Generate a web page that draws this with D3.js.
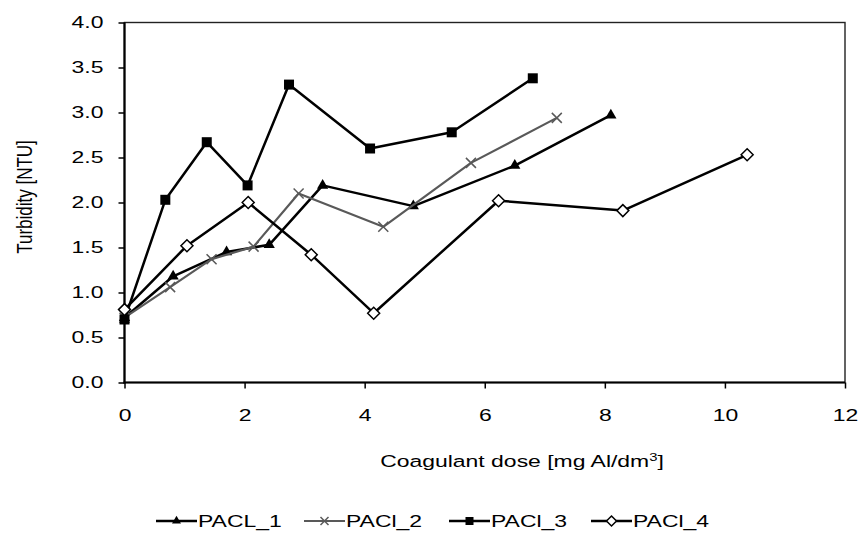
<!DOCTYPE html>
<html>
  <head>
    <title>Turbidity vs coagulant dose</title>
    <script src="https://d3js.org/d3.v7.min.js"></script>
    <style>
      body { background-color: white; margin: 0; }
      text { font-family: 'Liberation Sans', Arial, sans-serif; fill: black; }
    </style>
  </head>
  <body>
    <svg id="canvas" width="860" height="534"></svg>

    <script>
      // series values
      const pacl1X = [0, 0.81, 1.70, 2.41, 3.30, 4.81, 6.50, 8.10]
      const pacl1Y = [0.72, 1.18, 1.45, 1.53, 2.19, 1.96, 2.41, 2.97]

      const pacl2X = [0, 0.76, 1.45, 2.15, 2.90, 4.31, 5.77, 7.20]
      const pacl2Y = [0.72, 1.06, 1.37, 1.51, 2.10, 1.73, 2.44, 2.94]

      const pacl3X = [0, 0.68, 1.37, 2.05, 2.74, 4.09, 5.45, 6.80]
      const pacl3Y = [0.70, 2.03, 2.67, 2.19, 3.31, 2.60, 2.78, 3.38]

      const pacl4X = [0, 1.04, 2.06, 3.11, 4.15, 6.23, 8.30, 10.37]
      const pacl4Y = [0.81, 1.52, 2.00, 1.42, 0.77, 2.02, 1.91, 2.53]

      const xTicks = [0, 2, 4, 6, 8, 10, 12]
      const yTicks = [0, 0.5, 1, 1.5, 2, 2.5, 3, 3.5, 4]
      const seriesNames = ['PACL_1', 'PACl_2', 'PACl_3', 'PACl_4']

      const series = [
        { name: seriesNames[0], xs: pacl1X, ys: pacl1Y, color: 'black', width: 2.5, marker: 'triangle' },
        { name: seriesNames[1], xs: pacl2X, ys: pacl2Y, color: '#595959', width: 2.2, marker: 'cross' },
        { name: seriesNames[2], xs: pacl3X, ys: pacl3Y, color: 'black', width: 2.5, marker: 'square' },
        { name: seriesNames[3], xs: pacl4X, ys: pacl4Y, color: 'black', width: 2.5, marker: 'diamond' }
      ]

      // the original chart is stretched sideways, so its text is too
      const stretch = 1.35
      const fontSize = 17

      let margin = { top: 22.5, right: 15, bottom: 151.5, left: 124.5 }
      let svg = d3.select('#canvas')
      let width = +svg.attr('width') - margin.left - margin.right
      let height = +svg.attr('height') - margin.top - margin.bottom
      let g = svg.append('g').attr('transform', `translate(${margin.left}, ${margin.top})`)

      let x = d3.scaleLinear().domain([0, 12]).range([0, width])
      let y = d3.scaleLinear().domain([0, 4]).range([height, 0])

      // plot area border (top and right)
      g.append('rect')
        .attr('x', 0)
        .attr('y', 0)
        .attr('width', width)
        .attr('height', height)
        .attr('fill', 'none')
        .attr('stroke', '#222')
        .attr('stroke-width', 1.4)

      // axes
      let xAxis = g.append('g')
        .attr('transform', `translate(0, ${height})`)
        .call(d3.axisBottom(x).tickValues(xTicks).tickSize(6).tickPadding(20).tickFormat(d3.format('d')))
      let yAxis = g.append('g')
        .call(d3.axisLeft(y).tickValues(yTicks).tickSize(6).tickPadding(15).tickFormat(d3.format('.1f')))

      for (let ax of [xAxis, yAxis]) {
        ax.select('.domain').attr('stroke', 'black').attr('stroke-width', 2.2)
        ax.selectAll('.tick line').attr('stroke', 'black').attr('stroke-width', 1.5)
        ax.selectAll('.tick text')
          .attr('font-size', fontSize)
          .attr('font-family', "'Liberation Sans', Arial, sans-serif")
      }
      yAxis.select('.domain').attr('d', `M0,${height + 1}V0`)
      xAxis.select('.domain').attr('d', `M-1,0H${width}`)

      xAxis.selectAll('.tick text')
        .attr('transform', `scale(${stretch}, 1)`)
      yAxis.selectAll('.tick text')
        .attr('x', 0)
        .attr('transform', `translate(-21, 0) scale(${stretch}, 1)`)

      // axis titles
      svg.append('text')
        .attr('transform', `translate(522, 467) scale(${stretch}, 1)`)
        .attr('text-anchor', 'middle')
        .attr('font-size', fontSize)
        .html('Coagulant dose [mg Al/dm<tspan baseline-shift="super" font-size="11">3</tspan>]')

      svg.append('text')
        .attr('transform', `translate(32, 197) rotate(-90) scale(1, ${stretch})`)
        .attr('text-anchor', 'middle')
        .attr('font-size', fontSize)
        .text('Turbidity [NTU]')

      // markers
      const drawMarker = (sel, type, color, size) => {
        if (type === 'triangle') {
          sel.append('path')
            .attr('d', d3.symbol().type(d3.symbolTriangle).size(size * size * 0.55)())
            .attr('fill', color)
        } else if (type === 'square') {
          sel.append('rect')
            .attr('x', -size / 2).attr('y', -size / 2)
            .attr('width', size).attr('height', size)
            .attr('fill', color)
        } else if (type === 'diamond') {
          let s = size / 2 + 1
          sel.append('path')
            .attr('d', `M0,${-s}L${s},0L0,${s}L${-s},0Z`)
            .attr('fill', 'white')
            .attr('stroke', color)
            .attr('stroke-width', 1.5)
        } else if (type === 'cross') {
          let s = size / 2
          sel.append('path')
            .attr('d', `M${-s},${-s}L${s},${s}M${-s},${s}L${s},${-s}`)
            .attr('stroke', color)
            .attr('stroke-width', 1.5)
            .attr('fill', 'none')
        }
      }

      let line = d3.line().x(d => x(d[0])).y(d => y(d[1]))

      series.forEach(s => {
        let pts = s.xs.map((v, i) => [v, s.ys[i]])
        g.append('path')
          .datum(pts)
          .attr('d', line)
          .attr('fill', 'none')
          .attr('stroke', s.color)
          .attr('stroke-width', s.width)
          .attr('stroke-linejoin', 'round')

        g.selectAll(null).data(pts)
          .enter()
          .append('g')
            .attr('transform', d => `translate(${x(d[0])}, ${y(d[1])})`)
            .each(function () { drawMarker(d3.select(this), s.marker, s.color, 10) })
      })

      // legend
      const legendX = [156, 304, 449, 591]
      const legendY = 521
      let legend = svg.append('g')
      series.forEach((s, i) => {
        let item = legend.append('g').attr('transform', `translate(${legendX[i]}, ${legendY})`)
        item.append('line')
          .attr('x1', 0).attr('x2', 41)
          .attr('y1', 0).attr('y2', 0)
          .attr('stroke', s.color)
          .attr('stroke-width', s.width)
        let m = item.append('g').attr('transform', 'translate(20.5, 0)')
        drawMarker(m, s.marker, s.color, 8)
        item.append('text')
          .attr('transform', `translate(42, 6) scale(${stretch}, 1)`)
          .attr('font-size', fontSize)
          .text(s.name)
      })
    </script>
  </body>
</html>
